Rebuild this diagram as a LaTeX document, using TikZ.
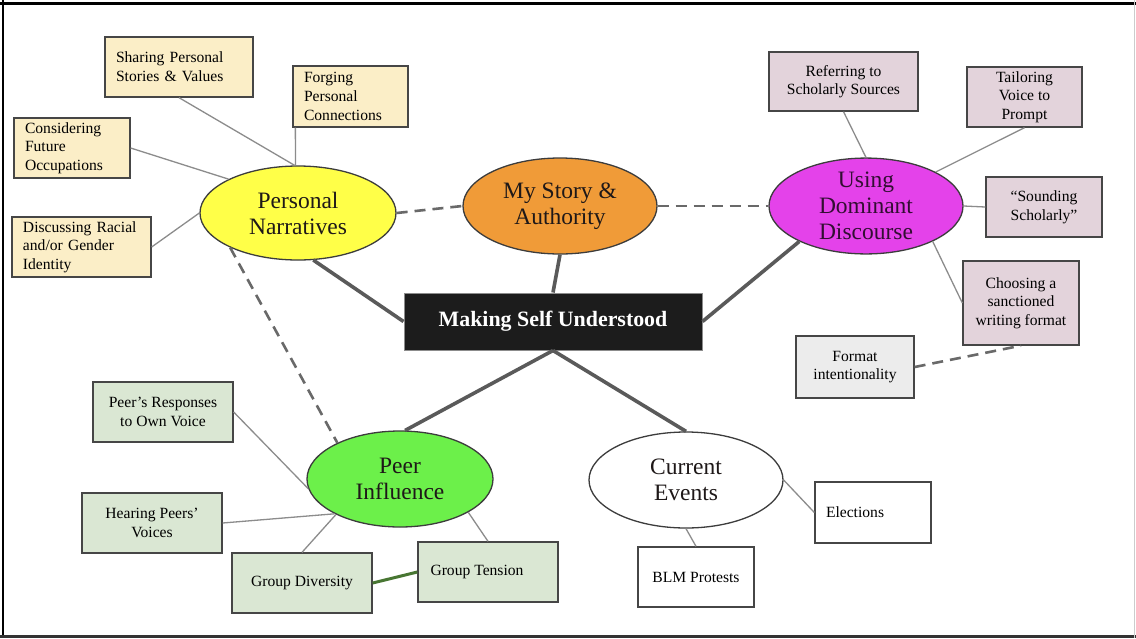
\documentclass[tikz,border=0pt]{standalone}
\usepackage{fontspec}
\setmainfont{Liberation Serif}
\usetikzlibrary{shapes.geometric}
\definecolor{ybox}{RGB}{251,238,199}
\definecolor{pbox}{RGB}{227,211,219}
\definecolor{gbox}{RGB}{218,231,211}
\definecolor{greybox}{RGB}{236,236,236}
\definecolor{boxline}{RGB}{70,70,70}
\definecolor{ovalline}{RGB}{60,60,60}
\definecolor{spokecol}{RGB}{140,140,140}
\definecolor{trunkcol}{RGB}{90,90,90}
\definecolor{dashcol}{RGB}{105,105,105}
\definecolor{ovyellow}{RGB}{255,255,72}
\definecolor{ovorange}{RGB}{240,155,56}
\definecolor{ovmagenta}{RGB}{228,66,234}
\definecolor{ovgreen}{RGB}{108,240,74}
\definecolor{linkgreen}{RGB}{72,118,50}
\definecolor{centerfill}{RGB}{28,28,28}
\definecolor{ovtext}{RGB}{30,24,24}
\newcommand{\boxfont}{\fontsize{15.6}{18.6}\selectfont}
\newcommand{\ovalfont}{\fontsize{23.5}{26}\selectfont}
\tikzset{
  spoke/.style={draw=spokecol, line width=1.3pt},
  trunk/.style={draw=trunkcol, line width=3.6pt},
  dashconn/.style={draw=dashcol, line width=2.6pt, dash pattern=on 11pt off 7pt},
  box/.style={rectangle, draw=boxline, line width=1.3pt, inner sep=0pt, font=\boxfont, text=black},
  lbox/.style={box, align=left, inner xsep=11pt},
  cbox/.style={box, align=center},
  oval/.style={ellipse, draw=ovalline, line width=1.3pt, inner sep=0pt, align=center, font=\ovalfont, text=ovtext},
}
\begin{document}
\begin{tikzpicture}[x=1pt,y=-1pt]
\useasboundingbox (0,0) rectangle (1136,638);
\fill[white] (0,0) rectangle (1136,638);
% frame
\draw[black, line width=2.5pt] (0,3.5) -- (1136,3.5);
\draw[black, line width=2.5pt] (3,0) -- (3,638);
\draw[black!80, line width=2.5pt] (0,636.5) -- (1136,636.5);
\draw[black!20, line width=1.5pt] (1134.5,0) -- (1134.5,638);

% central
\node[rectangle, fill=centerfill, draw=black!45, line width=1pt, minimum width=298pt, minimum height=57pt, inner sep=0pt, text=white, font=\bfseries\fontsize{21.9}{25}\selectfont] (cb) at (553,321.5) {Making Self Understood};

% ovals
\node[oval, fill=ovyellow, minimum width=196pt, minimum height=94pt] (pn) at (298,213) {Personal\\Narratives};
\node[oval, fill=ovorange, minimum width=194pt, minimum height=96pt] (ms) at (560,206) {My Story \&\\Authority};
\node[oval, fill=ovmagenta, minimum width=194pt, minimum height=94pt, text={rgb,255:red,50;green,14;blue,50}] (ud) at (866,206) {Using\\Dominant\\Discourse};
\node[oval, fill=ovgreen, minimum width=186pt, minimum height=96pt] (peer) at (400,479) {Peer\\Influence};
\node[oval, fill=white, minimum width=194pt, minimum height=96pt] (ce) at (686,480) {Current\\Events};

% yellow boxes
\node[lbox, fill=ybox, text width=126pt, minimum height=60pt] (share) at (179,67) {Sharing Personal\\Stories \& Values};
\node[lbox, fill=ybox, text width=93pt, minimum height=61pt] (forge) at (350.5,96.5) {Forging\\Personal\\Connections};
\node[lbox, fill=ybox, text width=94pt, minimum height=60pt] (cons) at (72,148) {Considering\\Future\\Occupations};
\node[lbox, fill=ybox, text width=117pt, minimum height=60pt] (disc) at (81.5,247) {Discussing Racial\\and/or Gender\\Identity};

% pink boxes
\node[cbox, fill=pbox, minimum width=149pt, minimum height=59pt] (ref) at (843.5,81.5) {Referring to\\Scholarly Sources};
\node[cbox, fill=pbox, minimum width=115pt, minimum height=60pt] (tail) at (1024.5,97) {Tailoring\\Voice to\\Prompt};
\node[cbox, fill=pbox, minimum width=116pt, minimum height=60pt] (sound) at (1044,207) {“Sounding\\Scholarly”};
\node[cbox, fill=pbox, minimum width=116pt, minimum height=84pt] (choose) at (1021,303) {Choosing a\\sanctioned\\writing format};
\node[cbox, fill=greybox, minimum width=118pt, minimum height=62pt] (fmt) at (855,367) {Format\\intentionality};

% green boxes
\node[cbox, fill=gbox, minimum width=140pt, minimum height=60pt] (resp) at (163,412) {Peer’s Responses\\to Own Voice};
\node[cbox, fill=gbox, minimum width=140pt, minimum height=60pt] (hear) at (152,523) {Hearing Peers’\\Voices};
\node[cbox, fill=gbox, minimum width=140pt, minimum height=60pt] (div) at (302,583) {Group Diversity};
\node[cbox, fill=gbox, minimum width=140pt, minimum height=60pt] (tens) at (488,572) {\hspace*{-22pt}Group Tension};

% white boxes
\node[lbox, fill=white, text width=94pt, minimum height=61pt] (elec) at (873,512.5) {Elections};
\node[cbox, fill=white, minimum width=116pt, minimum height=60pt] (blm) at (696,577) {BLM Protests};

% trunk connectors
\draw[trunk] (pn.288) -- (cb.west);
\draw[trunk] (ms.south) -- (cb.north);
\draw[trunk] (ud.208) -- (cb.east);
\draw[trunk] (cb.south) -- (peer.84);
\draw[trunk] (cb.south) -- (ce.north);

% dashed connectors
\draw[dashconn] (pn.east) -- (ms.west);
\draw[dashconn] (ms.east) -- (ud.west);
\draw[dashconn] (pn.207) -- (peer.150);
\draw[dashconn] (fmt.east) -- (choose.south);

% spokes personal narratives
\draw[spoke] (share.south) -- (pn.94);
\draw[spoke] ([xshift=3pt]forge.south west) -- (pn.93);
\draw[spoke] (cons.east) -- (pn.154);
\draw[spoke] (disc.east) -- (pn.west);

% spokes dominant discourse
\draw[spoke] (ref.south) -- (ud.north);
\draw[spoke] (tail.south) -- (ud.26);
\draw[spoke] (ud.east) -- (sound.west);
\draw[spoke] (ud.332) -- (choose.west);

% spokes peer influence
\draw[spoke] (resp.east) -- (peer.186);
\draw[spoke] (hear.east) -- (peer.208);
\draw[spoke] (div.north) -- (peer.209);
\draw[spoke] (tens.north) -- (peer.334);
\draw[draw=linkgreen, line width=3pt] (div.east) -- (tens.west);

% spokes current events
\draw[spoke] (ce.east) -- (elec.west);
\draw[spoke] (ce.south) -- (blm.north);
\end{tikzpicture}
\end{document}
